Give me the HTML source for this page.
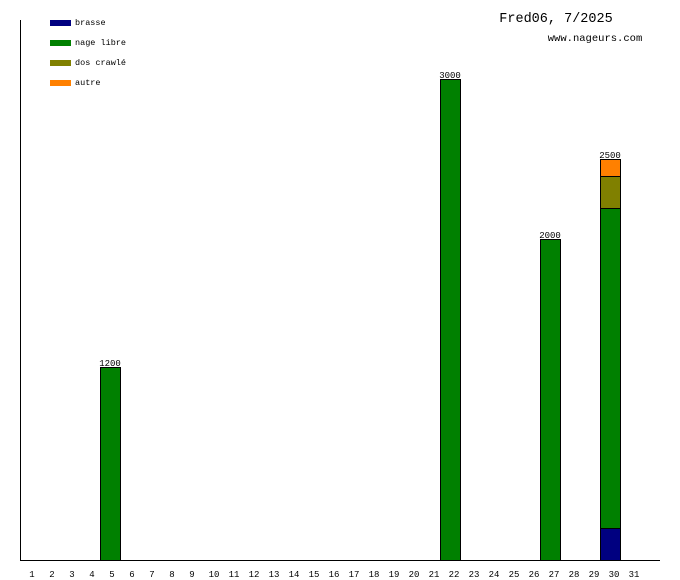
<!DOCTYPE html><html><head><style>body{margin:0;background:#fff}svg{display:block}text{font-family:"Liberation Mono",monospace}</style></head><body>
<svg width="680" height="580" xmlns="http://www.w3.org/2000/svg">
<rect width="680" height="580" fill="#fff"/>
<line x1="20.5" y1="20" x2="20.5" y2="561" stroke="#000"/>
<line x1="20" y1="560.5" x2="660" y2="560.5" stroke="#000"/>
<rect x="50" y="20" width="21" height="6" fill="#000080"/><text x="75" y="25" font-size="8.5">brasse</text>
<rect x="50" y="40" width="21" height="6" fill="#008000"/><text x="75" y="45" font-size="8.5">nage libre</text>
<rect x="50" y="60" width="21" height="6" fill="#808000"/><text x="75" y="65" font-size="8.5">dos crawlé</text>
<rect x="50" y="80" width="21" height="6" fill="#ff8000"/><text x="75" y="85" font-size="8.5">autre</text>
<text x="556" y="22" font-size="13.5" text-anchor="middle">Fred06, 7/2025</text>
<text x="595" y="41" font-size="10.5" text-anchor="middle">www.nageurs.com</text>
<g stroke="#000" stroke-width="1">
<rect x="100.5" y="367.5" width="20" height="193" fill="#008000"/>
<rect x="440.5" y="79.5" width="20" height="481" fill="#008000"/>
<rect x="540.5" y="239.5" width="20" height="321" fill="#008000"/>
<rect x="600.5" y="528.5" width="20" height="32" fill="#000080"/>
<rect x="600.5" y="208.5" width="20" height="320" fill="#008000"/>
<rect x="600.5" y="176.5" width="20" height="32" fill="#808000"/>
<rect x="600.5" y="159.5" width="20" height="17" fill="#ff8000"/>
</g>
<g font-size="9" text-anchor="middle">
<text x="110" y="366">1200</text><text x="450" y="78">3000</text><text x="550" y="238">2000</text><text x="610" y="158">2500</text>
</g>
<g font-size="9" text-anchor="middle">
<text x="32" y="577">1</text><text x="52" y="577">2</text><text x="72" y="577">3</text><text x="92" y="577">4</text><text x="112" y="577">5</text><text x="132" y="577">6</text><text x="152" y="577">7</text><text x="172" y="577">8</text><text x="192" y="577">9</text><text x="214" y="577">10</text><text x="234" y="577">11</text><text x="254" y="577">12</text><text x="274" y="577">13</text><text x="294" y="577">14</text><text x="314" y="577">15</text><text x="334" y="577">16</text><text x="354" y="577">17</text><text x="374" y="577">18</text><text x="394" y="577">19</text><text x="414" y="577">20</text><text x="434" y="577">21</text><text x="454" y="577">22</text><text x="474" y="577">23</text><text x="494" y="577">24</text><text x="514" y="577">25</text><text x="534" y="577">26</text><text x="554" y="577">27</text><text x="574" y="577">28</text><text x="594" y="577">29</text><text x="614" y="577">30</text><text x="634" y="577">31</text>
</g>
</svg></body></html>
